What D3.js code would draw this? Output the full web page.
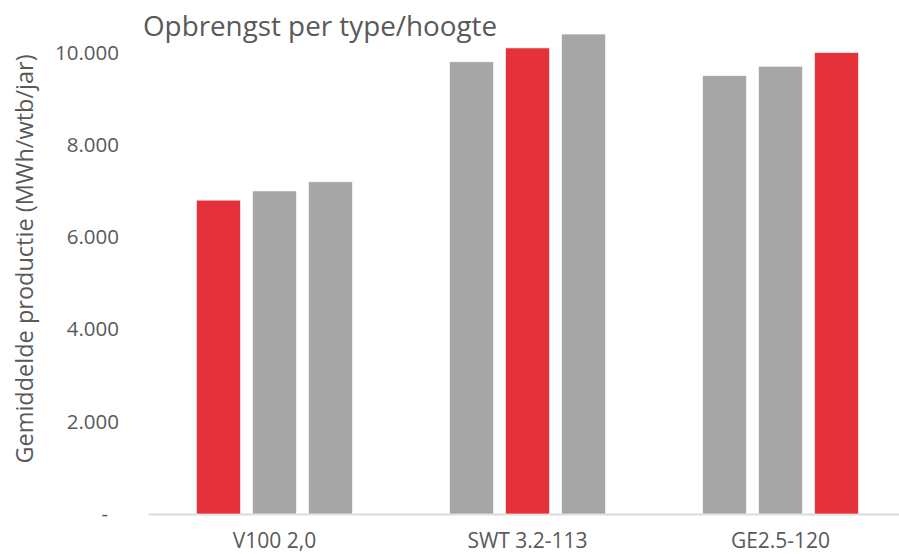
<!DOCTYPE html>
<html>
<head>
<meta charset="utf-8">
<script src="https://cdn.jsdelivr.net/npm/d3@7"></script>
<style>
  body { margin: 0; background: #fff; }
  svg { display: block; }
</style>
</head>
<body>
<div id="chart"></div>
<script>
// opbrengst per turbinetype, drie ashoogtes (MWh/wtb/jaar)
var categories = ["V100 2,0", "SWT 3.2-113", "GE2.5-120"];
var hoogte1 = [6800, 9800, 9500];
var hoogte2 = [7000, 10100, 9700];
var hoogte3 = [7200, 10400, 10000];
var gekozen = [0, 1, 2]; // welke bar per type rood is
var yTicks = [0, 2000, 4000, 6000, 8000, 10000];

var width = 899, height = 554;
var margin = { left: 148, right: -8, top: 52.5, bottom: 40 };
var baseline = height - margin.bottom;
var fontFam = "'Open Sans', 'Noto Sans', sans-serif";
var textGray = "#595959";

var svg = d3.select("#chart").append("svg")
    .attr("width", width)
    .attr("height", height)
    .attr("font-family", fontFam);

var x0 = d3.scaleBand()
    .domain(categories)
    .range([margin.left, width - margin.right])
    .padding(0);

var x1 = d3.scaleBand()
    .domain([0, 1, 2])
    .range([0, x0.bandwidth()])
    .paddingInner(0.2143)
    .paddingOuter(0.866);

var y = d3.scaleLinear()
    .domain([0, 10000])
    .range([baseline, margin.top]);

var fmt = function (d) {
    if (d === 0) return "-";
    return d3.format(",")(d).replace(/,/g, ".");
};

// y axis labels only (no line, no ticks)
var yAxis = svg.append("g")
    .attr("transform", "translate(119,0)")
    .call(d3.axisLeft(y).tickValues(yTicks).tickFormat(fmt).tickSize(0).tickPadding(0));
yAxis.attr("font-family", fontFam).attr("font-size", "20.5px");
yAxis.select(".domain").remove();
yAxis.selectAll("text")
    .attr("fill", textGray)
    .attr("dx", function (d) { return d === 0 ? "-11px" : 0; });

// category axis
var xAxis = svg.append("g")
    .attr("transform", "translate(0," + baseline + ")")
    .call(d3.axisBottom(x0).tickSize(0).tickPadding(19));
xAxis.attr("font-family", fontFam).attr("font-size", "21px");
xAxis.select(".domain")
    .attr("stroke", "#D9D9D9")
    .attr("stroke-width", 2);
xAxis.selectAll("text")
    .attr("fill", textGray);

var rows = categories.map(function (c, i) {
    return { cat: c, vals: [hoogte1[i], hoogte2[i], hoogte3[i]], red: gekozen[i] };
});

var groups = svg.append("g").selectAll("g")
    .data(rows)
    .enter().append("g")
    .attr("transform", function (d) { return "translate(" + x0(d.cat) + ",0)"; });

groups.selectAll("rect")
    .data(function (d) {
        return d.vals.map(function (v, j) { return { j: j, v: v, red: d.red === j }; });
    })
    .enter().append("rect")
    .attr("x", function (d) { return x1(d.j); })
    .attr("y", function (d) { return y(d.v); })
    .attr("width", x1.bandwidth())
    .attr("height", function (d) { return baseline - y(d.v); })
    .attr("fill", function (d) { return d.red ? "#E5323A" : "#A6A6A6"; })
    .attr("stroke", "#ffffff")
    .attr("stroke-opacity", 0.6)
    .attr("stroke-width", 1);

// titles
svg.append("text")
    .attr("x", 143)
    .attr("y", 36)
    .attr("fill", textGray)
    .attr("font-size", "27.8px")
    .text("Opbrengst per type/hoogte");

svg.append("text")
    .attr("transform", "translate(33,259) rotate(-90)")
    .attr("text-anchor", "middle")
    .attr("fill", textGray)
    .attr("font-size", "23.5px")
    .text("Gemiddelde productie (MWh/wtb/jar)");
</script>
</body>
</html>
